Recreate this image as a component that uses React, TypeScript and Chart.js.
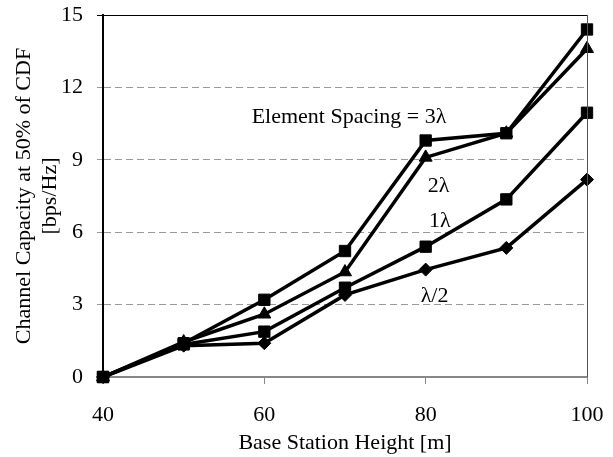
import React, { useEffect, useRef } from "react";
import { Chart, registerables } from "chart.js";

Chart.register(...registerables);

const heights = [40, 50, 60, 70, 80, 90, 100];
const spacing3 = [0, 1.4, 3.2, 5.22, 9.8, 10.1, 14.4];
const spacing2 = [0, 1.45, 2.6, 4.35, 9.1, 10.1, 13.6];
const spacing1 = [0, 1.35, 1.88, 3.7, 5.4, 7.36, 10.95];
const spacingHalf = [0, 1.3, 1.4, 3.4, 4.45, 5.35, 8.18];

const annotationTexts = ["Element Spacing = 3λ", "2λ", "1λ", "λ/2"];
const annotationX = [70.5, 81.6, 81.75, 81.1];
const annotationY = [10.78, 7.92, 6.47, 3.36];

const FONT = "'Liberation Serif', 'Times New Roman', serif";

const framePlugin = {
  id: "frame",
  afterDatasetsDraw(chart: any) {
    const { ctx, chartArea } = chart;
    ctx.save();
    ctx.lineWidth = 1;
    ctx.strokeStyle = "#000";
    ctx.beginPath();
    ctx.moveTo(chartArea.left - 6, chartArea.top + 0.5);
    ctx.lineTo(chartArea.right, chartArea.top + 0.5);
    ctx.stroke();
    ctx.strokeStyle = "#555";
    ctx.beginPath();
    ctx.moveTo(chartArea.right + 0.5, chartArea.top);
    ctx.lineTo(chartArea.right + 0.5, chartArea.bottom);
    ctx.stroke();
    ctx.restore();
  },
  afterDraw(chart: any) {
    const { ctx } = chart;
    const xs = chart.scales.x;
    const ys = chart.scales.y;
    ctx.save();
    ctx.fillStyle = "#000";
    ctx.font = `22px ${FONT}`;
    ctx.textAlign = "center";
    ctx.textBaseline = "middle";
    annotationTexts.forEach((t, i) => {
      ctx.fillText(t, xs.getPixelForValue(annotationX[i]), ys.getPixelForValue(annotationY[i]));
    });
    ctx.restore();
  },
};

export default function App() {
  const ref = useRef<HTMLCanvasElement | null>(null);
  useEffect(() => {
    if (!ref.current) return;
    const mk = (label: string, data: number[], style: string, radius: number) => ({
      label,
      data: heights.map((h, i) => ({ x: h, y: data[i] })),
      borderColor: "#000",
      backgroundColor: "#000",
      borderWidth: 3.5,
      pointStyle: style,
      pointRadius: radius,
      pointBorderWidth: 1,
      pointBackgroundColor: "#000",
      pointBorderColor: "#000",
      clip: false as any,
      tension: 0,
    });
    const chart = new Chart(ref.current, {
      type: "line",
      data: {
        datasets: [
          mk("3λ", spacing3, "rect", 8),
          mk("2λ", spacing2, "triangle", 7.5),
          mk("1λ", spacing1, "rect", 8),
          mk("λ/2", spacingHalf, "rectRot", 6.5),
        ],
      },
      options: {
        animation: false,
        responsive: true,
        maintainAspectRatio: false,
        devicePixelRatio: 1,
        layout: { padding: { left: 0, top: 15, right: 26, bottom: 0 } },
        plugins: { legend: { display: false }, tooltip: { enabled: false } },
        scales: {
          x: {
            type: "linear",
            min: 40,
            max: 100,
            ticks: { stepSize: 20, color: "#000", font: { family: FONT, size: 22 }, padding: 18, maxRotation: 0 },
            grid: { drawOnChartArea: false, drawTicks: true, tickLength: 7, tickColor: "#888", tickWidth: 1 },
            border: { color: "#888", width: 2 },
            title: { display: true, text: "Base Station Height [m]", color: "#000", font: { family: FONT, size: 22 }, padding: { top: 0, bottom: 1 } },
            afterFit: (s: any) => {
              s.height = 80;
              s.paddingLeft = 0;
              s.paddingRight = 0;
              s.paddingTop = 0;
              s.paddingBottom = 0;
            },
          },
          y: {
            type: "linear",
            min: 0,
            max: 15,
            ticks: { stepSize: 3, color: "#000", font: { family: FONT, size: 22 }, padding: 14 },
            grid: {
              color: (c: any) => (c.tick && (c.tick.value === 0 || c.tick.value === 15) ? "rgba(0,0,0,0)" : "#999"),
              lineWidth: 1,
              tickLength: 6,
              tickColor: "#999",
            },
            border: { color: "#000", width: 2, dash: [7, 4] },
            title: {
              display: true,
              text: ["Channel Capacity at 50% of CDF", "[bps/Hz]"],
              color: "#000",
              font: { family: FONT, size: 22 },
              padding: { top: 11, bottom: 0 },
            },
            afterFit: (s: any) => {
              s.width = 103;
              s.paddingLeft = 0;
              s.paddingRight = 0;
              s.paddingTop = 0;
              s.paddingBottom = 0;
            },
          },
        },
      },
      plugins: [framePlugin],
    });
    return () => chart.destroy();
  }, []);
  return (
    <div style={{ position: "absolute", left: 0, top: 0, width: 613, height: 457, background: "#fff" }}>
      <canvas ref={ref} />
    </div>
  );
}
